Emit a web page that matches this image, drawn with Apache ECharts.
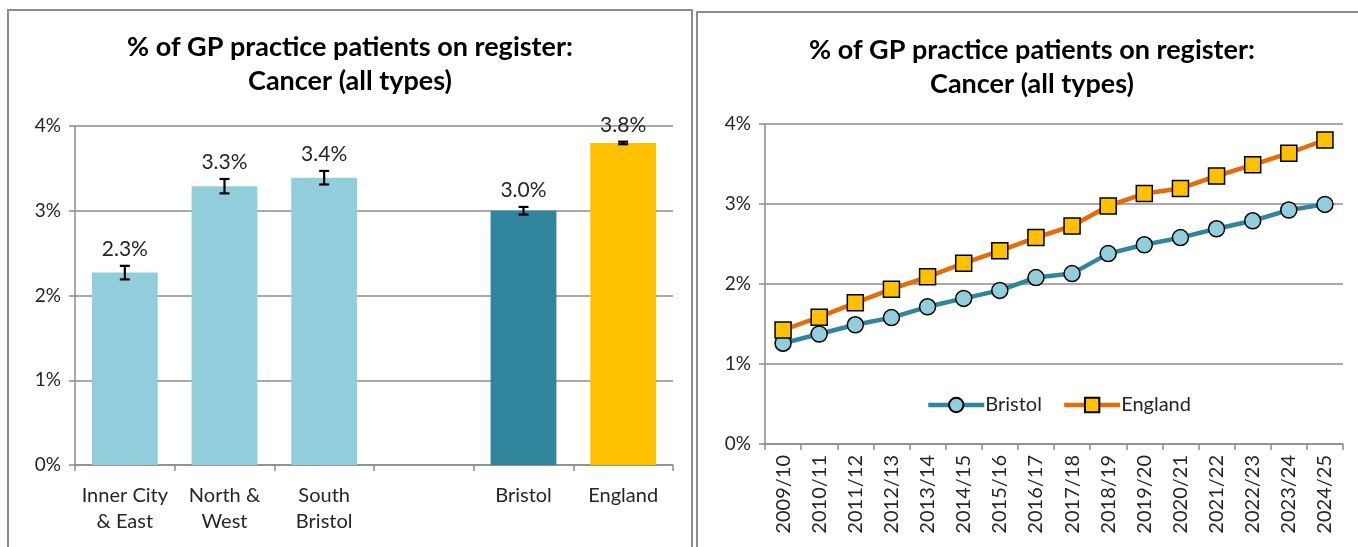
<!DOCTYPE html>
<html>
<head>
<meta charset="utf-8">
<script src="https://cdn.jsdelivr.net/npm/echarts@6/dist/echarts.min.js"></script>
<style>
  html, body { margin: 0; padding: 0; background: #fff; width: 1358px; height: 547px; overflow: hidden; }
  .panel { position: absolute; border: 2px solid #8c8c8c; box-sizing: border-box; background: #fff; }
  #left { left: 7px; top: 9px; width: 686px; height: 560px; }
  #right { left: 696px; top: 11px; width: 672px; height: 560px; }
</style>
</head>
<body>
<div id="left" class="panel"></div>
<div id="right" class="panel"></div>
<script>
// ---- Data ----
const titleText = '% of GP practice patients on register:\nCancer (all types)';
const areaCategories = ['Inner City\n& East', 'North &\nWest', 'South\nBristol', '', 'Bristol', 'England'];
const areaValues = [2.27, 3.29, 3.39, null, 3.00, 3.80];
const areaErrors = [0.08, 0.085, 0.08, null, 0.045, 0.015];
const yTicks = [0, 1, 2, 3, 4];

const years = ['2009/10','2010/11','2011/12','2012/13','2013/14','2014/15','2015/16','2016/17',
               '2017/18','2018/19','2019/20','2020/21','2021/22','2022/23','2023/24','2024/25'];
const bristolTrend = [1.26, 1.375, 1.49, 1.58, 1.715, 1.82, 1.92, 2.08, 2.13, 2.38, 2.49, 2.58, 2.69, 2.79, 2.925, 2.995];
const englandTrend = [1.425, 1.585, 1.765, 1.935, 2.09, 2.26, 2.415, 2.58, 2.725, 2.975, 3.13, 3.195, 3.35, 3.49, 3.635, 3.80];

// ---- Styles ----
const FONT = 'Lato, "Open Sans", sans-serif';
const barColors = ['#92CDDC', '#92CDDC', '#92CDDC', '#92CDDC', '#31859C', '#FFC000'];
const gridColor = '#8c8c8c';
const textColor = '#262626';

function pct(v) { return v + '%'; }

// ---- Left chart ----
const left = echarts.init(document.getElementById('left'));
const errData = [];
areaValues.forEach((v, i) => { if (v != null) errData.push([i, v, areaErrors[i]]); });

left.setOption({
  animation: false,
  title: {
    text: titleText, left: 'center', top: 14,
    textStyle: { fontFamily: FONT, fontSize: 27, fontWeight: 'bold', color: '#000', lineHeight: 34 }
  },
  grid: { left: 66, top: 115, width: 598, height: 339 },
  xAxis: {
    type: 'category', data: areaCategories,
    axisLine: { lineStyle: { color: gridColor, width: 1.5 } },
    axisTick: { show: true, alignWithLabel: false, length: 6, lineStyle: { color: gridColor, width: 1.5 } },
    axisLabel: { fontFamily: FONT, fontSize: 20, color: textColor, margin: 18, lineHeight: 26, interval: 0 }
  },
  yAxis: {
    type: 'value', min: 0, max: 4, interval: 1,
    axisLine: { show: true, lineStyle: { color: gridColor, width: 1.5 } },
    axisTick: { show: true, length: 6, lineStyle: { color: gridColor, width: 1.5 } },
    splitLine: { lineStyle: { color: gridColor, width: 1.5 } },
    axisLabel: { fontFamily: FONT, fontSize: 19, color: textColor, margin: 14, formatter: v => pct(v) }
  },
  series: [
    {
      type: 'bar', barWidth: '66%',
      data: areaValues.map((v, i) => v == null ? null : { value: v, itemStyle: { color: barColors[i] } })
    },
    {
      type: 'custom',
      data: errData,
      renderItem: function (params, api) {
        const idx = api.value(0), v = api.value(1), e = api.value(2);
        const top = api.coord([idx, v + e]);
        const bot = api.coord([idx, v - e]);
        const hw = 5;
        const st = { stroke: '#000', lineWidth: 2.2 };
        return {
          type: 'group',
          children: [
            { type: 'line', shape: { x1: top[0], y1: top[1], x2: bot[0], y2: bot[1] }, style: st },
            { type: 'line', shape: { x1: top[0] - hw, y1: top[1], x2: top[0] + hw, y2: top[1] }, style: st },
            { type: 'line', shape: { x1: bot[0] - hw, y1: bot[1], x2: bot[0] + hw, y2: bot[1] }, style: st },
            { type: 'text', style: { text: v.toFixed(1) + '%', x: top[0], y: top[1] - 6,
                align: 'center', verticalAlign: 'bottom', fontFamily: FONT, fontSize: 21, fill: textColor } }
          ]
        };
      },
      z: 5
    }
  ]
});

// ---- Right chart ----
const right = echarts.init(document.getElementById('right'));
right.setOption({
  animation: false,
  title: {
    text: titleText, left: 'center', top: 15,
    textStyle: { fontFamily: FONT, fontSize: 27, fontWeight: 'bold', color: '#000', lineHeight: 34 }
  },
  grid: { left: 67, top: 111, width: 578, height: 320 },
  legend: {
    data: ['Bristol', 'England'], left: 223, top: 377, itemWidth: 56, itemHeight: 18, itemGap: 20,
    lineStyle: { width: 4.5 },
    textStyle: { fontFamily: FONT, fontSize: 20, color: textColor, padding: [0, 0, 0, -4] }
  },
  xAxis: {
    type: 'category', data: years, boundaryGap: true,
    axisLine: { lineStyle: { color: gridColor, width: 1.5 } },
    axisTick: { show: true, alignWithLabel: false, length: 6, lineStyle: { color: gridColor, width: 1.5 } },
    axisLabel: { fontFamily: FONT, fontSize: 20, color: textColor, rotate: 90, margin: 11, interval: 0 }
  },
  yAxis: {
    type: 'value', min: 0, max: 4, interval: 1,
    axisLine: { show: true, lineStyle: { color: gridColor, width: 1.5 } },
    axisTick: { show: true, length: 6, lineStyle: { color: gridColor, width: 1.5 } },
    splitLine: { lineStyle: { color: gridColor, width: 1.5 } },
    axisLabel: { fontFamily: FONT, fontSize: 19, color: textColor, margin: 14, formatter: v => pct(v) }
  },
  series: [
    {
      name: 'Bristol', type: 'line', data: bristolTrend,
      symbol: 'circle', symbolSize: 16,
      lineStyle: { color: '#31859C', width: 4.5 },
      itemStyle: { color: '#92CDDC', borderColor: '#000', borderWidth: 1.5 }
    },
    {
      name: 'England', type: 'line', data: englandTrend,
      symbol: 'rect', symbolSize: 16,
      lineStyle: { color: '#E46C0A', width: 4.5 },
      itemStyle: { color: '#FFC000', borderColor: '#000', borderWidth: 1.5 }
    }
  ]
});
</script>
</body>
</html>
